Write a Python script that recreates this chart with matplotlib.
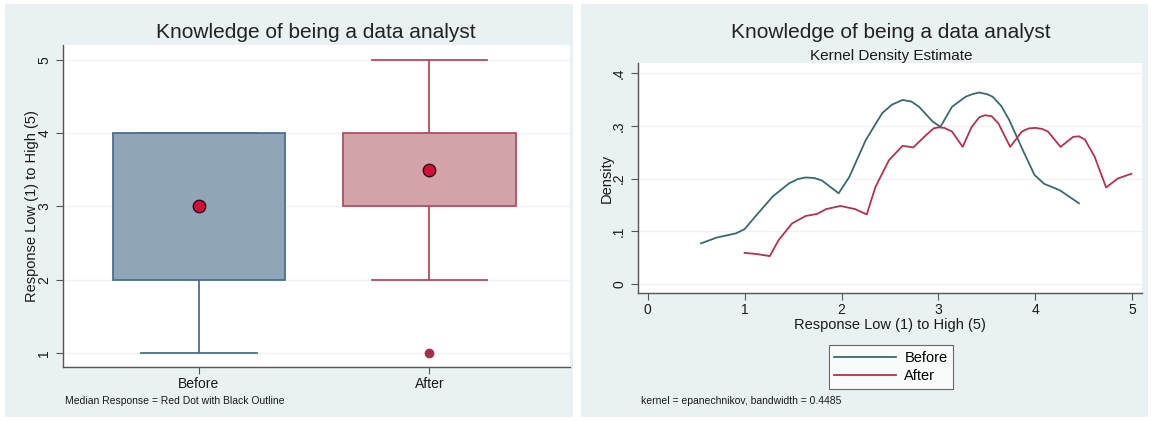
import numpy as np
import matplotlib
matplotlib.use("Agg")
import matplotlib.pyplot as plt
from matplotlib.patches import Rectangle

plt.rcParams['font.family'] = ['Liberation Sans', 'DejaVu Sans']

# box plot data (Before / After)
groups = ["Before", "After"]
whislo = [1, 2]
q1 = [2, 3]
medians = [3, 3.5]
q3 = [4, 4]
whishi = [4, 5]
fliers = [[], [1]]

# kernel density curves
before_x = [0.55, 0.71, 0.91, 1.0, 1.11, 1.29, 1.46, 1.55, 1.63, 1.72, 1.80, 1.97,
            2.08, 2.25, 2.42, 2.52, 2.63, 2.72, 2.80, 2.94, 3.02, 3.14, 3.28, 3.35,
            3.42, 3.50, 3.56, 3.65, 3.73, 3.87, 3.99, 4.09, 4.25, 4.45]
before_y = [0.077, 0.088, 0.096, 0.104, 0.128, 0.166, 0.191, 0.199, 0.202, 0.201,
            0.196, 0.172, 0.203, 0.273, 0.324, 0.340, 0.349, 0.346, 0.336, 0.308,
            0.298, 0.336, 0.355, 0.360, 0.363, 0.360, 0.355, 0.337, 0.311, 0.254,
            0.207, 0.190, 0.178, 0.153]
after_x = [1.0, 1.12, 1.26, 1.35, 1.49, 1.63, 1.75, 1.84, 1.99, 2.14, 2.26, 2.35,
           2.49, 2.63, 2.74, 2.87, 2.95, 3.0, 3.06, 3.14, 3.25, 3.34, 3.42, 3.48,
           3.55, 3.62, 3.74, 3.86, 3.93, 4.0, 4.07, 4.13, 4.26, 4.39, 4.45, 4.51,
           4.61, 4.73, 4.85, 4.99]
after_y = [0.059, 0.057, 0.053, 0.083, 0.115, 0.129, 0.133, 0.142, 0.148, 0.142,
           0.132, 0.184, 0.235, 0.262, 0.259, 0.282, 0.295, 0.297, 0.296, 0.289,
           0.260, 0.297, 0.316, 0.320, 0.318, 0.304, 0.260, 0.289, 0.295, 0.296,
           0.294, 0.289, 0.260, 0.279, 0.280, 0.274, 0.242, 0.183, 0.200, 0.209]

W, H = 1151, 421
panel_bg = "#EAF1F3"
axis_col = "#555555"
text_col = "#1a1a1a"

fig = plt.figure(figsize=(W / 100, H / 100), dpi=100, facecolor="white")

def px_axes(x0, y0, x1, y1):
    # pixel box (top-left origin) -> axes
    return fig.add_axes([x0 / W, 1 - y1 / H, (x1 - x0) / W, (y1 - y0) / H])

# panel backgrounds
for (x0, x1) in [(5, 573), (581, 1148)]:
    fig.patches.append(Rectangle((x0 / W, 4 / H), (x1 - x0) / W, (H - 8) / H,
                                 transform=fig.transFigure, facecolor=panel_bg,
                                 edgecolor="none", zorder=-10))

def stata_style(ax):
    ax.set_facecolor("white")
    for s in ["top", "right"]:
        ax.spines[s].set_visible(False)
    for s in ["left", "bottom"]:
        ax.spines[s].set_color(axis_col)
        ax.spines[s].set_linewidth(1.0)
    ax.tick_params(colors=axis_col, labelcolor=text_col, length=5, labelsize=10)
    ax.yaxis.grid(True, color="#EEF3F5", linewidth=1)
    ax.set_axisbelow(True)
    for lab in ax.get_yticklabels():
        lab.set_rotation(90)
        lab.set_va("center")

# ---------- left: box plot ----------
ax1 = px_axes(63, 45, 570, 367)
pos = [1, 2]
face = ["#8FA5B8", "#D4A3A8"]
edge = ["#4E6E8C", "#B24D5E"]
for i in range(2):
    st = dict(label=groups[i], whislo=whislo[i], q1=q1[i], med=medians[i],
              q3=q3[i], whishi=whishi[i], fliers=fliers[i])
    ax1.bxp([st], positions=[pos[i]], widths=0.75, capwidths=0.5,
            patch_artist=True, showfliers=True,
            boxprops=dict(facecolor=face[i], edgecolor=edge[i], linewidth=1.3),
            whiskerprops=dict(color=edge[i], linewidth=1.3),
            capprops=dict(color=edge[i], linewidth=1.3),
            medianprops=dict(linewidth=0),
            flierprops=dict(marker="o", markersize=6, markerfacecolor="#A3304C",
                            markeredgecolor="#A3304C"))
ax1.scatter(pos, medians, s=80, color="#D40F3C", edgecolor="#2a0a10",
            linewidth=1.0, zorder=5)
ax1.set_xlim(0.41, 2.61)
ax1.set_ylim(0.81, 5.2)
ax1.set_xticks(pos)
ax1.set_xticklabels(groups)
ax1.set_yticks([1, 2, 3, 4, 5])
ax1.tick_params(axis="x", length=0, pad=2)
stata_style(ax1)
ax1.set_ylabel("Response Low (1) to High (5)", fontsize=10.5, color=text_col, labelpad=-1)
fig.text(316 / W, 1 - 33 / H, "Knowledge of being a data analyst", ha="center",
         va="center", fontsize=15, color="#222222")
fig.text(65 / W, 1 - 401 / H, "Median Response = Red Dot with Black Outline",
         ha="left", va="center", fontsize=7.5, color=text_col)

# ---------- right: kernel density ----------
ax2 = px_axes(638, 63, 1142, 293)
ax2.plot(before_x, before_y, color="#3B6A6C", linewidth=1.3, label="Before")
ax2.plot(after_x, after_y, color="#B0334F", linewidth=1.3, label="After")
ax2.set_xlim(-0.1, 5.1)
ax2.set_ylim(-0.017, 0.419)
ax2.set_xticks([0, 1, 2, 3, 4, 5])
ax2.set_yticks([0, 0.1, 0.2, 0.3, 0.4])
ax2.set_yticklabels(["0", ".1", ".2", ".3", ".4"])
stata_style(ax2)
ax2.tick_params(axis="x", pad=2)
ax2.set_ylabel("Density", fontsize=10.5, color=text_col, labelpad=-1)
ax2.set_xlabel("Response Low (1) to High (5)", fontsize=10.5, color=text_col, labelpad=1)
leg = ax2.legend(loc="upper center", bbox_to_anchor=(891 / W, 1 - 338 / H),
                 bbox_transform=fig.transFigure, fontsize=10.5, frameon=True,
                 fancybox=False, handlelength=4.2, borderpad=0.4,
                 labelspacing=0.3, handletextpad=0.6)
leg.get_frame().set_edgecolor("#444444")
leg.get_frame().set_linewidth(0.8)
fig.text(891 / W, 1 - 32 / H, "Knowledge of being a data analyst", ha="center",
         va="center", fontsize=15, color="#222222")
fig.text(891 / W, 1 - 56 / H, "Kernel Density Estimate", ha="center",
         va="center", fontsize=11, color=text_col)
fig.text(641 / W, 1 - 401 / H, "kernel = epanechnikov, bandwidth = 0.4485",
         ha="left", va="center", fontsize=7.5, color=text_col)

fig.savefig("out.png", dpi=100, facecolor=fig.get_facecolor())
